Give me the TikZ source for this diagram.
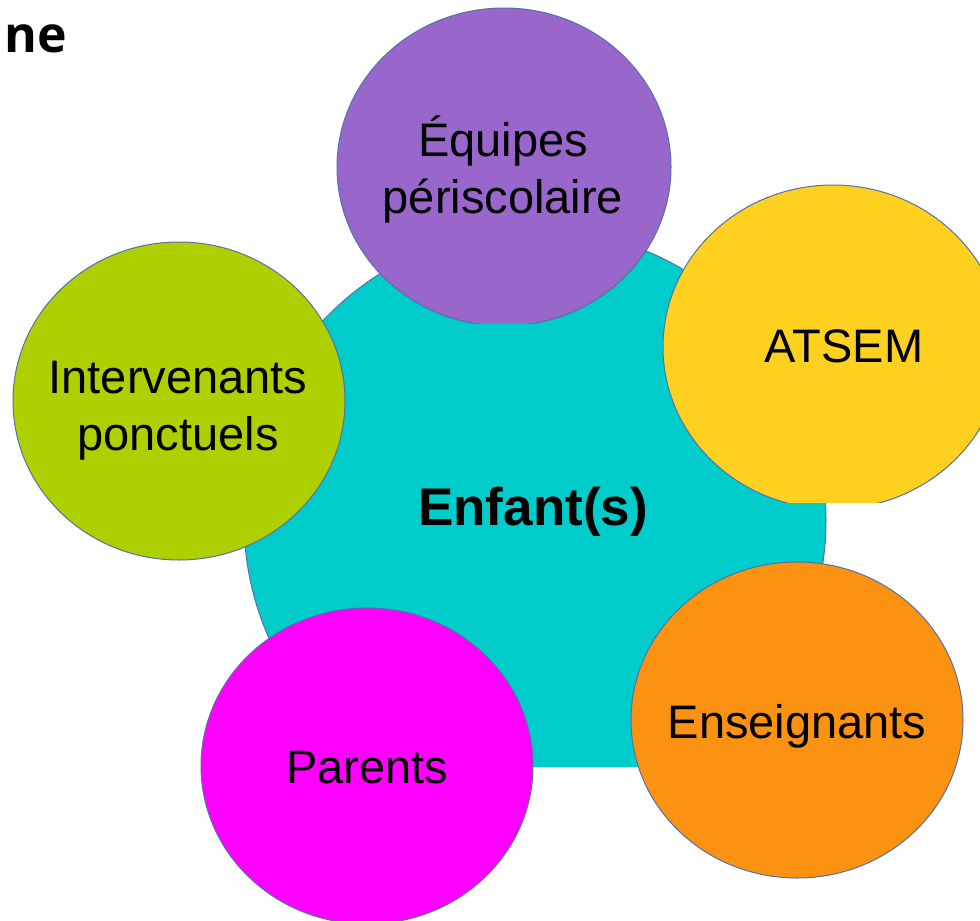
\documentclass[tikz,border=0pt]{standalone}
\usepackage{fontspec}
\setmainfont{Liberation Sans}
\newfontfamily\headfont{Open Sans}
\usetikzlibrary{shapes.geometric}

\definecolor{enfcol}{RGB}{0,204,204}
\definecolor{equcol}{RGB}{153,102,204}
\definecolor{atscol}{RGB}{254,208,32}
\definecolor{intcol}{RGB}{174,207,0}
\definecolor{parcol}{RGB}{255,0,255}
\definecolor{enscol}{RGB}{252,146,18}
\definecolor{rimcol}{RGB}{84,112,168}

\begin{document}
\begin{tikzpicture}[x=0.5pt, y=-0.5pt,
  bubble/.style={ellipse, draw=rimcol, line width=0.5pt, inner sep=0pt},
  lbl/.style={font=\fontsize{23.5}{28.5}\selectfont, align=center, inner sep=0pt},
  lblbold/.style={font=\fontsize{26.5}{30}\selectfont\bfseries, inner sep=0pt}]
 \useasboundingbox (0,0) rectangle (980,921);
 % Cut-off heading
 \node[anchor=base west, inner sep=0pt, font=\headfont\bfseries\fontsize{25}{30}\selectfont] (titre) at (4,52) {ne};
 % Central circle (cut at the bottom)
 \begin{scope}
  \clip (0,0) rectangle (829,766);
  \node[bubble, fill=enfcol, minimum width=291pt, minimum height=291pt] (enf) at (535,520) {};
 \end{scope}
 % Surrounding bubbles
 \begin{scope}
  \clip (0,0) rectangle (980,323);
  \node[bubble, fill=equcol, minimum width=167pt, minimum height=159pt] (equ) at (504,167) {};
 \end{scope}
 \begin{scope}
  \clip (0,0) rectangle (980,502);
  \node[bubble, fill=atscol, minimum width=170pt, minimum height=162pt] (ats) at (833,347) {};
 \end{scope}
 \node[bubble, fill=intcol, minimum width=166pt, minimum height=159pt] (int) at (179,401) {};
 \node[bubble, fill=parcol, minimum width=166pt, minimum height=158pt] (par) at (367,766) {};
 \node[bubble, fill=enscol, minimum width=166pt, minimum height=158pt] (ens) at (797,720) {};
 % Labels (base = last line)
 \node[lblbold, anchor=base] (enft) at (533,525) {Enfant(s)};
 \node[lbl, anchor=base] (equt) at (503,213) {Équipes\\périscolaire};
 \node[lbl, anchor=base] (atst) at (844,362) {ATSEM};
 \node[lbl, anchor=base] (intt) at (178,450) {Intervenants\\ponctuels};
 \node[lbl, anchor=base] (part) at (367,783) {Parents};
 \node[lbl, anchor=base] (enst) at (797,738) {Enseignants};
\end{tikzpicture}
\end{document}
